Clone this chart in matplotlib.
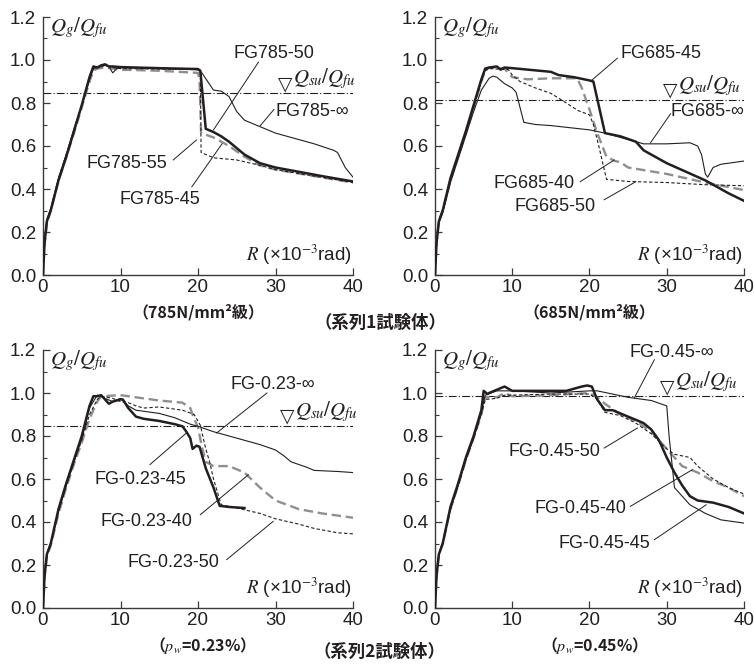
import matplotlib
matplotlib.use("Agg")
import matplotlib.pyplot as plt
from matplotlib.ticker import MultipleLocator

plt.rcParams['font.family'] = ['Liberation Sans', 'Noto Sans CJK JP', 'DejaVu Sans']
plt.rcParams['mathtext.fontset'] = 'stix'

# ---- 785N/mm2 series (R x10^-3 rad, Qg/Qfu) ----
r785_50 = [0, 0.2, 0.5, 1, 2, 3, 4, 5, 6, 6.5, 7, 7.5, 8, 8.5, 9, 10, 15, 20, 20.3, 21, 22, 23, 24, 25, 26, 28, 30, 33, 36, 40]
q785_50 = [0, 0.15, 0.25, 0.3, 0.44, 0.55, 0.67, 0.79, 0.92, 0.97, 0.965, 0.975, 0.98, 0.97, 0.97, 0.967, 0.962, 0.958, 0.95, 0.68, 0.665, 0.645, 0.62, 0.59, 0.56, 0.52, 0.5, 0.48, 0.46, 0.435]
r785_inf = [0, 0.2, 0.5, 1, 2, 3, 4, 5, 6, 6.5, 7, 8, 8.5, 9, 9.5, 10, 15, 20, 20.5, 22, 23, 24, 25, 26, 28, 30, 32, 35, 37.5, 38, 39, 40]
q785_inf = [0, 0.16, 0.26, 0.31, 0.45, 0.56, 0.68, 0.79, 0.91, 0.96, 0.965, 0.975, 0.97, 0.94, 0.96, 0.965, 0.96, 0.955, 0.94, 0.86, 0.855, 0.83, 0.76, 0.72, 0.69, 0.66, 0.64, 0.61, 0.58, 0.57, 0.5, 0.455]
r785_45 = [0, 0.2, 0.5, 1, 2, 3, 4, 5, 6, 6.5, 7, 8, 9, 10, 15, 20, 20.2, 20.4, 22, 24, 26, 28, 30, 35, 40]
q785_45 = [0, 0.14, 0.24, 0.3, 0.44, 0.55, 0.66, 0.78, 0.9, 0.95, 0.96, 0.965, 0.96, 0.955, 0.95, 0.94, 0.9, 0.66, 0.64, 0.6, 0.55, 0.51, 0.49, 0.46, 0.43]
r785_55 = [0, 0.2, 0.5, 1, 2, 3, 4, 5, 6, 6.5, 7, 8, 9, 10, 15, 20, 20.3, 20.4, 22, 25, 28, 30, 35, 40]
q785_55 = [0, 0.15, 0.25, 0.3, 0.45, 0.56, 0.67, 0.79, 0.91, 0.96, 0.965, 0.975, 0.965, 0.96, 0.958, 0.955, 0.94, 0.57, 0.545, 0.535, 0.51, 0.49, 0.46, 0.43]

# ---- 685N/mm2 series ----
r685_45 = [0, 0.2, 0.5, 1, 2, 3, 4, 5, 6, 6.5, 7, 8, 8.5, 9, 10, 15, 16, 18, 20, 20.5, 22, 24, 26, 27, 30, 35, 38, 40]
q685_45 = [0, 0.15, 0.25, 0.3, 0.45, 0.56, 0.67, 0.79, 0.91, 0.96, 0.965, 0.97, 0.955, 0.965, 0.962, 0.945, 0.93, 0.92, 0.905, 0.9, 0.66, 0.645, 0.62, 0.58, 0.52, 0.44, 0.38, 0.345]
r685_inf = [0, 0.2, 0.5, 1, 2, 3, 4, 5, 6, 7, 7.5, 8, 9, 10, 10.5, 11, 11.5, 13, 15, 20, 22, 25, 26, 27, 30, 33, 34, 34.5, 35, 35.3, 36, 37, 38, 40]
q685_inf = [0, 0.14, 0.24, 0.29, 0.43, 0.54, 0.65, 0.76, 0.86, 0.915, 0.925, 0.92, 0.89, 0.87, 0.85, 0.78, 0.71, 0.7, 0.695, 0.675, 0.66, 0.63, 0.62, 0.61, 0.61, 0.615, 0.6, 0.56, 0.47, 0.455, 0.5, 0.515, 0.52, 0.53]
r685_40 = [0, 0.2, 0.5, 1, 2, 3, 4, 5, 6, 6.5, 7, 9, 10, 12, 15, 18.4, 19, 20, 21, 22.2, 23.3, 24, 25, 30, 35, 40]
q685_40 = [0, 0.15, 0.25, 0.3, 0.44, 0.55, 0.66, 0.78, 0.9, 0.95, 0.965, 0.96, 0.92, 0.91, 0.915, 0.915, 0.87, 0.77, 0.66, 0.55, 0.53, 0.525, 0.5, 0.47, 0.43, 0.395]
r685_50 = [0, 0.2, 0.5, 1, 2, 3, 4, 5, 6, 6.5, 7, 9.5, 10, 11, 13, 15, 17, 18.5, 20, 20.5, 21.2, 22.2, 25, 30, 35, 40]
q685_50 = [0, 0.15, 0.25, 0.3, 0.44, 0.55, 0.66, 0.78, 0.9, 0.95, 0.96, 0.955, 0.93, 0.9, 0.87, 0.845, 0.8, 0.765, 0.745, 0.7, 0.6, 0.445, 0.435, 0.43, 0.42, 0.415]

# ---- pw = 0.23% series ----
r023_45 = [0, 0.2, 0.5, 1, 2, 3, 4, 5, 6, 6.5, 7, 7.5, 8, 8.5, 9, 10, 10.3, 11, 12, 13, 15, 17, 18, 18.5, 19, 19.3, 19.8, 20.2, 21, 22, 22.8, 24, 26]
q023_45 = [0, 0.15, 0.25, 0.3, 0.46, 0.58, 0.69, 0.8, 0.94, 0.985, 0.985, 0.99, 0.97, 0.95, 0.96, 0.97, 0.97, 0.93, 0.89, 0.88, 0.87, 0.855, 0.845, 0.82, 0.79, 0.74, 0.755, 0.75, 0.65, 0.56, 0.475, 0.47, 0.465]
r023_inf = [0, 0.2, 0.5, 1, 2, 3, 4, 5, 6, 7, 8, 9, 10, 11, 12, 15, 17, 19, 20, 22, 25, 28, 30, 31, 32, 34, 35, 38, 40]
q023_inf = [0, 0.15, 0.25, 0.3, 0.45, 0.57, 0.68, 0.79, 0.93, 0.99, 0.975, 0.96, 0.975, 0.94, 0.92, 0.905, 0.885, 0.855, 0.845, 0.82, 0.79, 0.76, 0.735, 0.71, 0.68, 0.655, 0.64, 0.635, 0.63]
r023_40 = [0, 0.2, 0.5, 1, 2, 3, 4, 5, 6, 7, 7.5, 10, 12, 15, 18, 19, 19.5, 20, 20.5, 21, 22, 24, 26, 28, 30, 33, 36, 40]
q023_40 = [0, 0.14, 0.24, 0.29, 0.44, 0.56, 0.67, 0.77, 0.88, 0.96, 0.985, 0.99, 0.98, 0.965, 0.955, 0.93, 0.88, 0.84, 0.75, 0.68, 0.66, 0.66, 0.63, 0.56, 0.5, 0.46, 0.44, 0.42]
r023_50 = [0, 0.2, 0.5, 1, 2, 3, 4, 5, 6, 7, 7.5, 9, 10, 11, 12, 13, 15, 17, 18, 19.5, 20.3, 21, 21.5, 22, 23, 25, 28, 30, 33, 35, 38, 40]
q023_50 = [0, 0.15, 0.25, 0.3, 0.45, 0.57, 0.68, 0.78, 0.9, 0.97, 0.985, 0.975, 0.96, 0.955, 0.94, 0.93, 0.935, 0.925, 0.92, 0.9, 0.85, 0.74, 0.68, 0.6, 0.48, 0.465, 0.44, 0.415, 0.39, 0.37, 0.35, 0.345]

# ---- pw = 0.45% series ----
r045_45 = [0, 0.2, 0.5, 1, 2, 3, 4, 5, 6, 6.3, 6.8, 7, 8, 9, 9.5, 10, 15, 17, 18, 19, 19.7, 20.3, 21, 22, 23, 25, 27, 28, 29, 30, 31, 32, 33, 34, 36, 38, 40]
q045_45 = [0, 0.15, 0.25, 0.3, 0.47, 0.58, 0.7, 0.8, 0.92, 1.01, 0.995, 1.0, 1.015, 1.03, 1.02, 1.01, 1.01, 1.01, 1.02, 1.03, 1.035, 1.03, 0.97, 0.92, 0.92, 0.89, 0.86, 0.83, 0.78, 0.7, 0.63, 0.57, 0.52, 0.5, 0.49, 0.47, 0.44]
r045_inf = [0, 0.2, 0.5, 1, 2, 3, 4, 5, 6, 6.5, 8, 10, 15, 20, 21, 25, 28, 30, 30.3, 31, 32, 33, 35, 37, 40]
q045_inf = [0, 0.15, 0.25, 0.3, 0.46, 0.57, 0.69, 0.79, 0.91, 0.99, 1.01, 1.01, 1.0, 1.01, 1.01, 0.98, 0.965, 0.94, 0.8, 0.56, 0.52, 0.48, 0.44, 0.41, 0.395]
r045_40 = [0, 0.2, 0.5, 1, 2, 3, 4, 5, 6, 6.5, 8, 9, 10, 15, 20, 21, 22, 24, 26, 28, 30, 32, 34, 36, 38, 40]
q045_40 = [0, 0.15, 0.25, 0.3, 0.46, 0.57, 0.69, 0.79, 0.9, 0.98, 0.98, 1.0, 0.985, 0.99, 1.0, 0.98, 0.95, 0.9, 0.87, 0.82, 0.74, 0.66, 0.63, 0.59, 0.56, 0.52]
r045_50 = [0, 0.2, 0.5, 1, 2, 3, 4, 5, 6, 6.5, 8, 9, 10, 15, 20, 21, 22, 24, 26, 28, 30, 31, 33, 34, 36, 38, 40]
q045_50 = [0, 0.15, 0.25, 0.3, 0.46, 0.57, 0.69, 0.79, 0.9, 0.97, 0.975, 0.99, 0.99, 0.995, 0.995, 0.97, 0.91, 0.895, 0.86, 0.81, 0.74, 0.715, 0.7, 0.66, 0.6, 0.56, 0.53]

qsu_levels = [0.845, 0.814, 0.848, 0.984]
qsu_marks = [31.2, 30.5, 31.5, 30.1]
captions = ['（785N/mm²級）', '（685N/mm²級）', '（$p_w$=0.23%）', '（$p_w$=0.45%）']

INK = '#231f20'
GRAY = '#8f8f8f'

# line styles per specimen type
def thick(ax, x, y):
    ax.plot(x, y, color=INK, lw=1.8, zorder=5)

def thin(ax, x, y):
    ax.plot(x, y, color=INK, lw=0.8, zorder=4)

def gray_dash(ax, x, y):
    ax.plot(x, y, color=GRAY, lw=1.7, ls=(0, (4, 2)), zorder=3)

def thin_dash(ax, x, y):
    ax.plot(x, y, color=INK, lw=0.8, ls=(0, (3, 2)), zorder=4)

def label(ax, txt, xy_text, p0, p1):
    ax.text(xy_text[0], xy_text[1], txt, ha='center', va='center', fontsize=13, color=INK)
    ax.plot([p0[0], p1[0]], [p0[1], p1[1]], color=INK, lw=0.7, zorder=6)

fig = plt.figure(figsize=(7.54, 6.66), dpi=100)
W, H = 754, 666
boxes = [(43, 17, 353, 275), (435, 17, 744, 275), (43, 350, 353, 608), (435, 350, 744, 608)]
axes = []
for (x0, y0, x1, y1) in boxes:
    ax = fig.add_axes([x0 / W, 1 - y1 / H, (x1 - x0) / W, (y1 - y0) / H])
    axes.append(ax)

for i, ax in enumerate(axes):
    ax.set_xlim(0, 40)
    ax.set_ylim(0, 1.2)
    for s in ['top', 'right']:
        ax.spines[s].set_visible(False)
    for s in ['left', 'bottom']:
        ax.spines[s].set_color('#3a3a3a')
        ax.spines[s].set_linewidth(1.0)
    ax.set_xticks([0, 10, 20, 30, 40])
    ax.set_yticks([0, 0.2, 0.4, 0.6, 0.8, 1.0, 1.2])
    ax.set_yticklabels(['0.0', '0.2', '0.4', '0.6', '0.8', '1.0', '1.2'])
    ax.yaxis.set_minor_locator(MultipleLocator(0.1))
    ax.tick_params(direction='in', length=5, width=0.9, color='#3a3a3a', labelsize=13.5, labelcolor=INK)
    ax.tick_params(axis='y', pad=5)
    ax.tick_params(axis='x', pad=3)
    ax.tick_params(which='minor', direction='in', length=3, width=0.8, color='#3a3a3a')
    ax.axhline(qsu_levels[i], color=INK, lw=0.8, ls=(0, (7, 2, 1, 2)), zorder=2)
    ax.text(qsu_marks[i], qsu_levels[i], '▽', ha='center', va='bottom', fontsize=13.5, color=INK,
            family=['DejaVu Sans'])
    ax.text(qsu_marks[i] + 1.0, qsu_levels[i] + 0.01, r'$Q_{su}/Q_{fu}$', ha='left', va='bottom',
            fontsize=15, color=INK)
    ax.text(0.9, 1.21, r'$Q_g/Q_{fu}$', ha='left', va='top', fontsize=15, color=INK)
    ax.text(39.8, 0.065, r'$R$' + ' (×10$^{-3}$rad)', ha='right', va='baseline', fontsize=13.5, color=INK)
    ax.text(0.5, -0.145, captions[i], transform=ax.transAxes, ha='center', va='center',
            fontsize=11.5, fontweight='bold', color=INK,
            family=['Noto Sans CJK JP', 'DejaVu Sans'])

# panel 1
ax = axes[0]
gray_dash(ax, r785_45, q785_45)
thin_dash(ax, r785_55, q785_55)
thin(ax, r785_inf, q785_inf)
thick(ax, r785_50, q785_50)
label(ax, 'FG785-50', (29.8, 1.03), (27.8, 0.99), (22.0, 0.675))
label(ax, 'FG785-∞', (34.7, 0.76), (29.8, 0.77), (28.0, 0.693))
label(ax, 'FG785-55', (10.8, 0.52), (16.8, 0.535), (19.8, 0.628))
label(ax, 'FG785-45', (15.1, 0.35), (19.2, 0.41), (23.1, 0.61))

# panel 2
ax = axes[1]
gray_dash(ax, r685_40, q685_40)
thin_dash(ax, r685_50, q685_50)
thin(ax, r685_inf, q685_inf)
thick(ax, r685_45, q685_45)
label(ax, 'FG685-45', (29.3, 1.03), (23.6, 1.008), (20.1, 0.9))
label(ax, 'FG685-∞', (35.3, 0.76), (30.5, 0.75), (27.9, 0.615))
label(ax, 'FG685-40', (12.8, 0.426), (18.8, 0.434), (23.2, 0.535))
label(ax, 'FG685-50', (15.6, 0.318), (21.9, 0.35), (26.0, 0.434))

# panel 3
ax = axes[2]
gray_dash(ax, r023_40, q023_40)
thin_dash(ax, r023_50, q023_50)
thin(ax, r023_inf, q023_inf)
thick(ax, r023_45, q023_45)
label(ax, 'FG-0.23-∞', (29.7, 1.04), (28.9, 1.0), (22.4, 0.814))
label(ax, 'FG-0.23-45', (12.5, 0.597), (13.8, 0.667), (18.5, 0.814))
label(ax, 'FG-0.23-40', (13.4, 0.403), (20.3, 0.434), (26.5, 0.62))
label(ax, 'FG-0.23-50', (16.8, 0.21), (23.7, 0.225), (29.7, 0.403))

# panel 4
ax = axes[3]
gray_dash(ax, r045_40, q045_40)
thin_dash(ax, r045_50, q045_50)
thin(ax, r045_inf, q045_inf)
thick(ax, r045_45, q045_45)
label(ax, 'FG-0.45-∞', (30.7, 1.19), (28.4, 1.155), (25.8, 0.977))
label(ax, 'FG-0.45-50', (15.4, 0.73), (21.9, 0.744), (26.2, 0.837))
label(ax, 'FG-0.45-40', (18.8, 0.465), (25.3, 0.473), (33.3, 0.643))
label(ax, 'FG-0.45-45', (21.9, 0.30), (28.4, 0.318), (35.1, 0.48))

fig.text(380 / W, 1 - 323 / H, '（系列1試験体）', ha='center', va='center', fontsize=12.5,
         fontweight='bold', color=INK, family=['Noto Sans CJK JP', 'DejaVu Sans'])
fig.text(379 / W, 1 - 652 / H, '（系列2試験体）', ha='center', va='center', fontsize=12.5,
         fontweight='bold', color=INK, family=['Noto Sans CJK JP', 'DejaVu Sans'])

fig.savefig('out.png', dpi=100)
